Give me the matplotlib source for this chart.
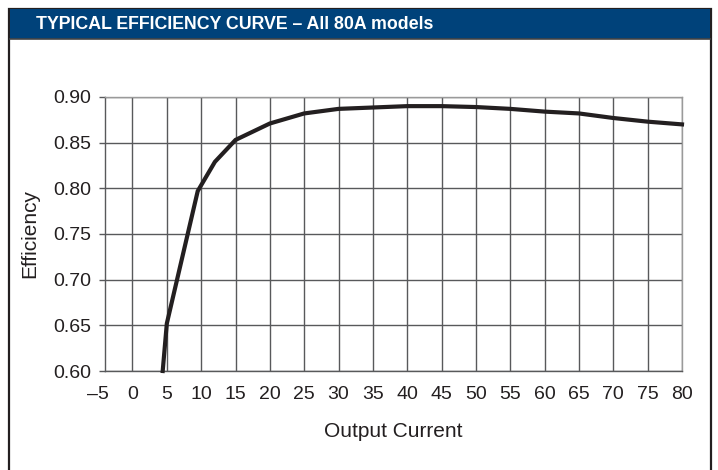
import matplotlib
matplotlib.use("Agg")
import matplotlib.pyplot as plt
import matplotlib.transforms as mtransforms
from matplotlib.patches import Rectangle

# --- datos ---
current = [4.4, 5, 9.5, 12, 15, 20, 25, 30, 40, 45, 50, 55, 60, 65, 70, 75, 80]
efficiency = [0.60, 0.652, 0.797, 0.829, 0.853, 0.871, 0.882, 0.887, 0.890,
              0.890, 0.889, 0.887, 0.884, 0.882, 0.877, 0.873, 0.870]

x_ticks = list(range(-5, 85, 5))
y_ticks = [0.60, 0.65, 0.70, 0.75, 0.80, 0.85, 0.90]

title = "TYPICAL EFFICIENCY CURVE \u2013 All 80A models"
header_blue = "#00427a"
grid_gray = "#58595b"
ink = "#231f20"

plt.rcParams["font.family"] = ["Liberation Sans", "DejaVu Sans"]

fig = plt.figure(figsize=(7.18, 4.70), dpi=100)
W, H = 718, 470

# marco exterior y cabecera azul
fig.patches.append(Rectangle((8.5 / W, -0.01), (711 - 8.5) / W, 1 - 8.5 / H + 0.01,
                             transform=fig.transFigure, fill=False,
                             edgecolor=ink, linewidth=1.6))
fig.patches.append(Rectangle((9.5 / W, 1 - 38.5 / H), (710 - 9.5) / W, 29 / H,
                             transform=fig.transFigure, facecolor=header_blue,
                             edgecolor="none"))
fig.lines.append(plt.Line2D([9.5 / W, 710 / W], [1 - 38.5 / H, 1 - 38.5 / H],
                            transform=fig.transFigure, color="#444444", linewidth=1.2))
fig.text(36 / W, 1 - 24.5 / H, title, color="white", fontsize=12.8, fontweight="bold",
         ha="left", va="center")

ax = fig.add_axes([105 / W, 1 - 371 / H, (682 - 105) / W, (371 - 97) / H])

ax.plot(current, efficiency, color=ink, linewidth=3.0, solid_joinstyle="miter",
        zorder=3, clip_on=False)

ax.set_xlim(-4, 80)
ax.set_ylim(0.60, 0.90)
ax.set_xticks([t for t in x_ticks if t >= 0])
ax.set_xticklabels([str(t) for t in x_ticks if t >= 0])
ax.set_yticks(y_ticks)
ax.set_yticklabels([f"{v:.2f}" for v in y_ticks])
ax.grid(True, color=grid_gray, linewidth=1.0)
ax.set_axisbelow(True)

ax.tick_params(axis="x", length=0, pad=10.5, labelsize=14, colors=ink)
ax.tick_params(axis="y", length=4, width=1.0, pad=6, labelsize=14,
               color=grid_gray, labelcolor=ink)
for side, sp in ax.spines.items():
    sp.set_color(grid_gray if side in ("left", "bottom") else "#9a9a9a")
    sp.set_linewidth(1.0)

# etiqueta -5 fuera del rango visible
trans = mtransforms.blended_transform_factory(ax.transData, ax.transAxes)
ax.annotate("\u2013" + str(abs(x_ticks[0])), xy=(x_ticks[0], 0), xycoords=trans,
            xytext=(0, -10.5), textcoords="offset points", ha="center", va="top",
            fontsize=14, color=ink, annotation_clip=False)

ax.set_xlabel("Output Current", fontsize=15, color=ink, labelpad=14)
ax.set_ylabel("Efficiency", fontsize=15, color=ink, labelpad=10)

fig.savefig("out.png", dpi=100)
